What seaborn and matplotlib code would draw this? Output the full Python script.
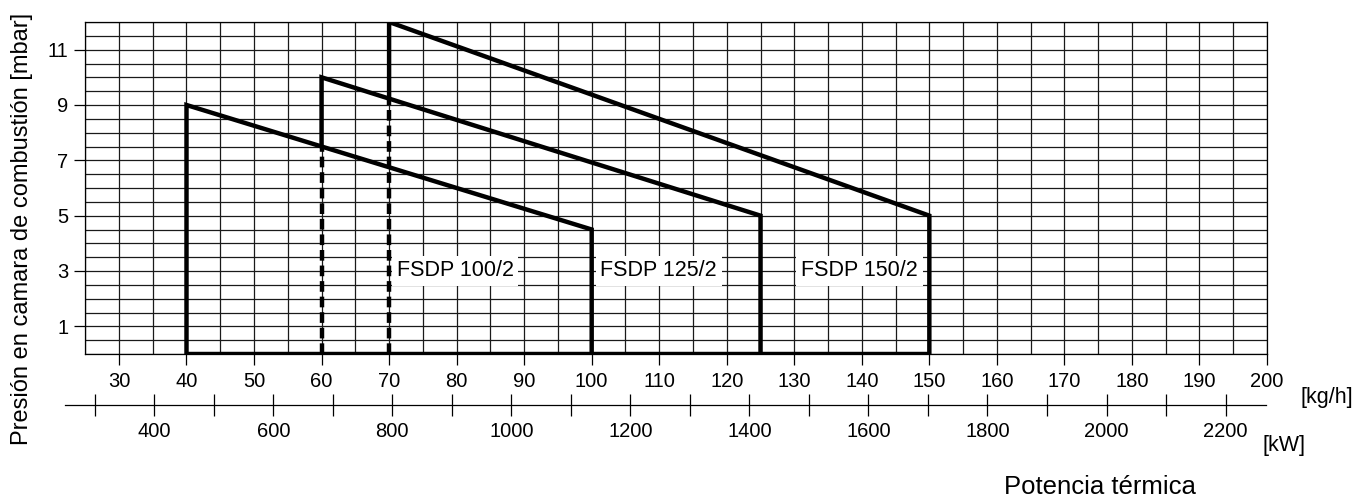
import matplotlib
matplotlib.use("Agg")
import matplotlib.pyplot as plt
import numpy as np
import pandas as pd
import seaborn as sns

# ---- data ----
models = ["FSDP 100/2", "FSDP 125/2", "FSDP 150/2"]
flow_min = [40, 60, 70]          # kg/h
flow_max = [100, 125, 150]       # kg/h
press_top = [9, 10, 12]          # mbar at min flow
press_end = [4.5, 5, 5]          # mbar at max flow
label_x = [71.1, 101.3, 131.0]
label_y = [3, 3, 3]
kg_ticks = list(range(30, 201, 10))
kw_ticks = list(range(300, 2201, 100))
kw_labels = list(range(400, 2201, 200))
y_ticks = [1, 3, 5, 7, 9, 11]

sns.set_theme(style="ticks")
plt.rcParams["font.family"] = ["Liberation Sans", "DejaVu Sans"]
plt.rcParams["text.color"] = "black"
plt.rcParams["xtick.color"] = "black"
plt.rcParams["ytick.color"] = "black"

W, H = 1369, 497
fig = plt.figure(figsize=(W / 100, H / 100), dpi=100)
ax = fig.add_axes([85.2 / W, 1 - 354 / H, 1181.8 / W, 332 / H])

# build solid and dashed segments
solid_rows, dash_rows = [], []
for i, m in enumerate(models):
    if i == 0:
        y0 = 0.0
    else:
        y0 = float(np.interp(flow_min[i], [flow_min[i - 1], flow_max[i - 1]],
                             [press_top[i - 1], press_end[i - 1]]))
        dash_rows += [(m, flow_min[i], 0.0), (m, flow_min[i], y0)]
    pts = [(flow_min[i], y0), (flow_min[i], press_top[i]),
           (flow_max[i], press_end[i]), (flow_max[i], 0.0)]
    solid_rows += [(m, x, y) for x, y in pts]
solid_rows += [("base", min(flow_min), 0.0), ("base", max(flow_max), 0.0)]
solid = pd.DataFrame(solid_rows, columns=["seg", "flow", "p"])
dashed = pd.DataFrame(dash_rows, columns=["seg", "flow", "p"])

sns.lineplot(data=solid, x="flow", y="p", units="seg", estimator=None,
             sort=False, color="black", lw=3.2, legend=False, ax=ax,
             solid_joinstyle="miter", solid_capstyle="butt", zorder=3)
n_solid = len(ax.lines)
sns.lineplot(data=dashed, x="flow", y="p", units="seg", estimator=None,
             sort=False, color="black", lw=3.2, legend=False, ax=ax,
             zorder=3)
for ln in ax.lines[n_solid:]:
    ln.set_linestyle((0, (2.4, 1.1)))

for m, x, y in zip(models, label_x, label_y):
    ax.text(x, y, m, ha="left", va="center", fontsize=15.5, zorder=5,
            color="black",
            bbox=dict(facecolor="white", edgecolor="none", pad=3.5))

ax.set_xlim(25, 200)
ax.set_ylim(0, 12)
ax.set_xticks(kg_ticks)
ax.set_xticks(np.arange(25, 201, 5), minor=True)
ax.set_yticks(y_ticks)
ax.set_yticks(np.arange(0, 12.01, 0.5), minor=True)
ax.tick_params(which="major", direction="out", length=8, width=0.9,
               color="black", labelsize=14.5, labelcolor="black",
               bottom=True, left=True, top=False, right=False)
ax.tick_params(axis="x", which="major", pad=5)
ax.tick_params(axis="y", which="major", pad=4)
ax.tick_params(which="minor", length=0)
ax.grid(which="both", color="#1a1a1a", lw=0.9)
ax.set_axisbelow(True)
for s in ax.spines.values():
    s.set_visible(True)
    s.set_color("black")
    s.set_linewidth(0.9)
ax.set_xlabel("")
ax.set_ylabel("")

# secondary kW axis
ax2 = fig.add_axes([65 / W, 1 - 405 / H, 1201 / W, 0.0001])
ax2.set_facecolor("none")
for k in ["top", "left", "right"]:
    ax2.spines[k].set_visible(False)
ax2.spines["bottom"].set_color("black")
ax2.spines["bottom"].set_linewidth(0.9)
ax2.set_xlim(250, 2268)
ax2.set_yticks([])
ax2.set_xticks(kw_ticks)
ax2.set_xticklabels([str(t) if t in kw_labels else "" for t in kw_ticks])
ax2.tick_params(axis="x", direction="inout", length=16, width=0.9,
                color="black", labelsize=14.5, labelcolor="black", pad=4,
                bottom=True, top=False)

fig.text(22 / W, 1 - 228.5 / H, "Presión en camara de combustión [mbar]",
         rotation=90, ha="center", va="center", fontsize=17)
fig.text(1300 / W, 1 - 397 / H, "[kg/h]", ha="left", va="center", fontsize=15.5)
fig.text(1262 / W, 1 - 446 / H, "[kW]", ha="left", va="center", fontsize=15.5)
fig.text(1100 / W, 1 - 487 / H, "Potencia térmica", ha="center", va="center",
         fontsize=18.5)

fig.savefig("out.png", dpi=100)
